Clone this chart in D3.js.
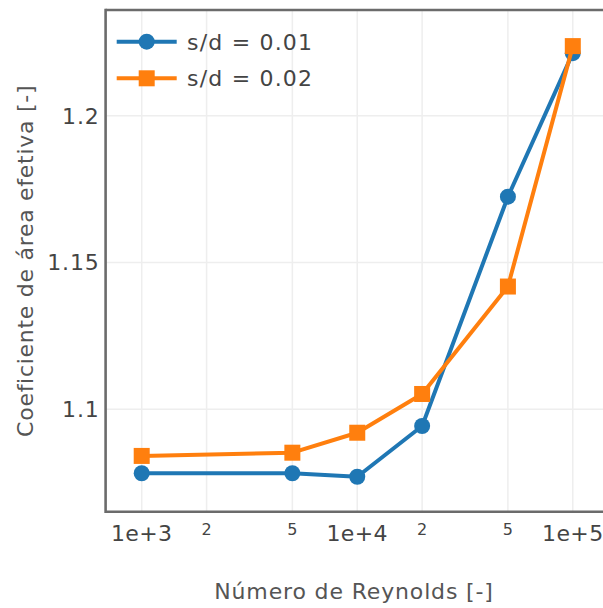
<!DOCTYPE html>
<html>
<head>
<meta charset="utf-8">
<script src="https://cdn.jsdelivr.net/npm/d3@7"></script>
<style>
  html, body { margin: 0; padding: 0; background: #fff; }
  svg { display: block; font-family: "DejaVu Sans", Verdana, sans-serif; }
</style>
</head>
<body>
<svg id="chart" width="603" height="608"></svg>
<script>
// Reynolds numbers sampled
const reynolds = [1000, 5000, 10000, 20000, 50000, 100000];
// Effective area coefficient for each gap ratio
const sd001 = [1.0782, 1.0782, 1.0770, 1.0943, 1.1724, 1.2213];
const sd002 = [1.0841, 1.0852, 1.0920, 1.1052, 1.1418, 1.2237];
const seriesNames = ["s/d = 0.01", "s/d = 0.02"];
const seriesColors = ["#1f77b4", "#ff7f0e"];
const seriesSymbols = ["circle", "square"];

// Axis ticks
const yTicks = [1.1, 1.15, 1.2];
const yTickLabels = ["1.1", "1.15", "1.2"];
const xGridTicks = [1000, 2000, 5000, 10000, 20000, 50000, 100000, 200000];
const xMajorTicks = [1000, 10000, 100000];
const xMajorLabels = ["1e+3", "1e+4", "1e+5"];
const xMinorTicks = [2000, 5000, 20000, 50000];
const xMinorLabels = ["2", "5", "2", "5"];

const xTitle = "Número de Reynolds [-]";
const yTitle = "Coeficiente de área efetiva [-]";

const svg = d3.select("#chart");
const plot = { left: 105.6, top: 10, right: 640, bottom: 511.7 };

const x = d3.scaleLog().domain([680, 205000]).range([plot.left, plot.right]);
const y = d3.scaleLinear().domain([1.0651, 1.236]).range([plot.bottom, plot.top]);

// grid
const grid = svg.append("g");
grid.selectAll("line.vx").data(xGridTicks).join("line")
  .attr("x1", d => x(d)).attr("x2", d => x(d))
  .attr("y1", plot.top).attr("y2", plot.bottom)
  .attr("stroke", "#eeeeee").attr("stroke-width", 1.5);
grid.selectAll("line.hy").data(yTicks).join("line")
  .attr("x1", plot.left).attr("x2", plot.right)
  .attr("y1", d => y(d)).attr("y2", d => y(d))
  .attr("stroke", "#eeeeee").attr("stroke-width", 1.5);

// frame lines: left, bottom, top
const frameColor = "#6b6b6b";
svg.append("line").attr("x1", plot.left).attr("x2", plot.left)
  .attr("y1", plot.top - 1.3).attr("y2", plot.bottom + 1.3)
  .attr("stroke", frameColor).attr("stroke-width", 2.6);
svg.append("line").attr("x1", plot.left).attr("x2", plot.right)
  .attr("y1", plot.bottom).attr("y2", plot.bottom)
  .attr("stroke", frameColor).attr("stroke-width", 2.6);
svg.append("line").attr("x1", plot.left).attr("x2", plot.right)
  .attr("y1", plot.top).attr("y2", plot.top)
  .attr("stroke", frameColor).attr("stroke-width", 2.6);

// tick labels
const tickColor = "#444";
svg.append("g").selectAll("text").data(yTicks).join("text")
  .attr("x", 99.5).attr("y", d => y(d) + 8)
  .attr("text-anchor", "end").attr("font-size", 22).attr("letter-spacing", 0.8)
  .attr("fill", tickColor)
  .text((d, i) => yTickLabels[i]);
svg.append("g").selectAll("text").data(xMajorTicks).join("text")
  .attr("x", d => x(d)).attr("y", 541)
  .attr("text-anchor", "middle").attr("font-size", 22).attr("letter-spacing", 0.4)
  .attr("fill", tickColor)
  .text((d, i) => xMajorLabels[i]);
svg.append("g").selectAll("text").data(xMinorTicks).join("text")
  .attr("x", d => x(d)).attr("y", 534.5)
  .attr("text-anchor", "middle").attr("font-size", 16).attr("fill", tickColor)
  .text((d, i) => xMinorLabels[i]);

// axis titles
svg.append("text").attr("x", 354).attr("y", 599)
  .attr("text-anchor", "middle").attr("font-size", 22).attr("letter-spacing", 0.85)
  .attr("fill", "#555")
  .text(xTitle);
svg.append("text")
  .attr("transform", `translate(33, ${(plot.top + plot.bottom) / 2}) rotate(-90)`)
  .attr("text-anchor", "middle").attr("font-size", 22).attr("letter-spacing", 0.72)
  .attr("fill", "#555")
  .text(yTitle);

// series
const series = [sd001, sd002];
const line = d3.line().x((d, i) => x(reynolds[i])).y(d => y(d));
const markerSize = 16;

function drawMarker(g, symbol, color, cx, cy) {
  if (symbol === "circle") {
    g.append("circle").attr("cx", cx).attr("cy", cy).attr("r", markerSize / 2).attr("fill", color);
  } else {
    g.append("rect").attr("x", cx - markerSize / 2).attr("y", cy - markerSize / 2)
      .attr("width", markerSize).attr("height", markerSize).attr("fill", color);
  }
}

series.forEach((vals, si) => {
  const g = svg.append("g");
  g.append("path").datum(vals).attr("d", line)
    .attr("fill", "none").attr("stroke", seriesColors[si])
    .attr("stroke-width", 4).attr("stroke-linejoin", "round");
  vals.forEach((v, i) => drawMarker(g, seriesSymbols[si], seriesColors[si], x(reynolds[i]), y(v)));
});

// legend
const legendRows = [41.7, 78.3];
seriesNames.forEach((name, si) => {
  const g = svg.append("g");
  const ly = legendRows[si];
  g.append("line").attr("x1", 116.7).attr("x2", 176.7).attr("y1", ly).attr("y2", ly)
    .attr("stroke", seriesColors[si]).attr("stroke-width", 4);
  drawMarker(g, seriesSymbols[si], seriesColors[si], 146.7, ly);
  g.append("text").attr("x", 187).attr("y", ly + 8)
    .attr("font-size", 22).attr("letter-spacing", 1.2).attr("fill", "#444").text(name);
});
</script>
</body>
</html>
